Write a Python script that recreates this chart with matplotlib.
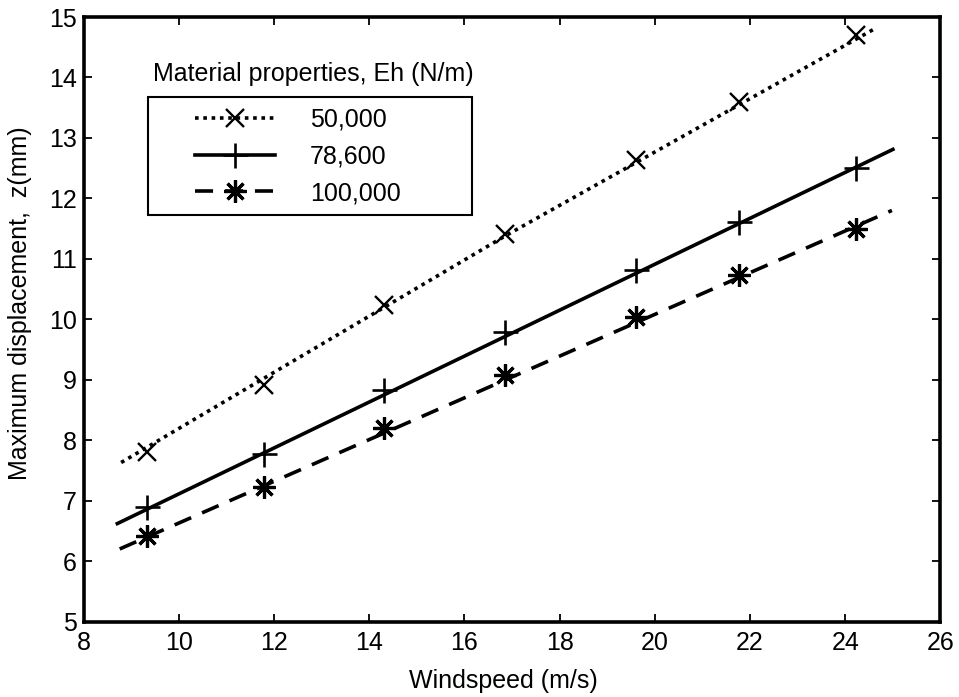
import matplotlib.pyplot as plt
from matplotlib.patches import Rectangle

plt.rcParams['font.family'] = ['Liberation Sans', 'DejaVu Sans']

# windspeed (m/s) at the measured points
windspeed = [9.33, 11.8, 14.32, 16.86, 19.6, 21.77, 24.22]

# maximum displacement z (mm) for each Eh value
z_50000 = [7.81, 8.91, 10.23, 11.41, 12.63, 13.60, 14.71]
z_78600 = [6.90, 7.77, 8.83, 9.79, 10.82, 11.61, 12.51]
z_100000 = [6.41, 7.22, 8.20, 9.08, 10.04, 10.73, 11.50]

# fitted trend lines
fit_x_50000 = [8.79, 16.86, 24.65]
fit_y_50000 = [7.63, 11.38, 14.82]
fit_x_78600 = [8.71, 25.0]
fit_y_78600 = [6.62, 12.81]
fit_x_100000 = [8.76, 24.98]
fit_y_100000 = [6.20, 11.80]

labels = ['50,000', '78,600', '100,000']
legend_title = 'Material properties, Eh (N/m)'

fig = plt.figure(figsize=(9.59, 6.97), dpi=100)
ax = fig.add_axes([0.0871, 0.1083, 0.9807 - 0.0871, 0.9756 - 0.1083])

lw = 2.6
# trend lines
ax.plot(fit_x_50000, fit_y_50000, color='black', lw=lw, linestyle=(0, (1, 1.3)),
        dash_capstyle='butt')
ax.plot(fit_x_78600, fit_y_78600, color='black', lw=lw, linestyle='-')
ax.plot(fit_x_100000, fit_y_100000, color='black', lw=lw, linestyle=(0, (5, 3.3)),
        dash_capstyle='butt')

# measured points
ax.plot(windspeed, z_50000, linestyle='none', marker='x', ms=12.5, mew=1.7, color='black')
ax.plot(windspeed, z_78600, linestyle='none', marker='+', ms=18, mew=1.9, color='black')
ax.plot(windspeed, z_100000, linestyle='none', marker=(8, 2, 0), ms=16, mew=2.3, color='black')

ax.set_xlim(8, 26)
ax.set_ylim(5, 15)
ax.set_xticks(range(8, 27, 2))
ax.set_yticks(range(5, 16))

ax.tick_params(direction='in', length=6, width=1.3, top=True, right=True,
               labelsize=18, colors='black')
ax.tick_params(axis='x', pad=7)
ax.tick_params(axis='y', pad=5)
for s in ax.spines.values():
    s.set_linewidth(2.6)

ax.set_xlabel('Windspeed (m/s)', fontsize=18)
ax.set_ylabel('Maximum displacement,  z(mm)', fontsize=18)
ax.xaxis.set_label_coords(0.49, -0.078)
ax.yaxis.set_label_coords(-0.060, 0.526)

# legend (frame and title drawn separately, like the original)
h1, = ax.plot([], [], color='black', lw=lw, linestyle=(0, (1, 1.3)), marker='x',
              ms=12.5, mew=1.7)
h2, = ax.plot([], [], color='black', lw=lw, linestyle='-', marker='+', ms=18, mew=1.9)
h3, = ax.plot([], [], color='black', lw=lw, linestyle=(0, (5, 3.3)), marker=(8, 2, 0),
              ms=16, mew=2.3)
fig.legend([h1, h2, h3], labels, loc='upper left',
           bbox_to_anchor=(195 / 959, 1 - 108 / 697), frameon=False, fontsize=18,
           borderpad=0, borderaxespad=0, handlelength=3.2, handletextpad=1.4,
           labelspacing=0.5)
fig.patches.append(Rectangle((148.3 / 959, 1 - 215 / 697), 323.4 / 959, 118.3 / 697,
                             transform=fig.transFigure, fill=False, edgecolor='black',
                             linewidth=1.5))
fig.text(153 / 959, 1 - 74 / 697, legend_title, fontsize=18, ha='left', va='center')

fig.savefig('out.png', dpi=100)
